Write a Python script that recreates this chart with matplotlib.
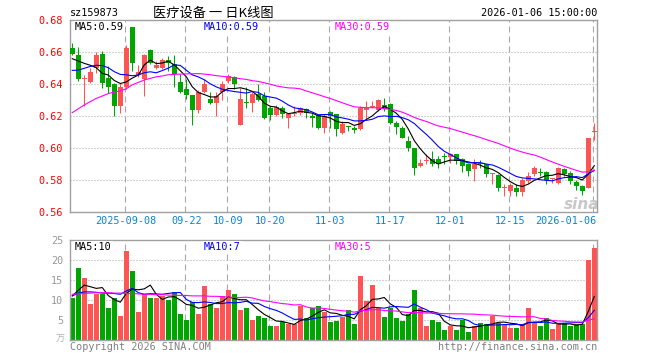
import numpy as np
import matplotlib.pyplot as plt

plt.rcParams['font.family'] = ['DejaVu Sans Mono', 'Noto Sans CJK SC']

# ---- data (one entry per trading day) ----
opens = [0.6627, 0.6581, 0.6431, 0.6415, 0.6502, 0.6585, 0.6435, 0.6398, 0.6263, 0.6383,
         0.6758, 0.6456, 0.6433, 0.6615, 0.6498, 0.6498, 0.6550, 0.6527, 0.6415, 0.6367,
         0.6331, 0.6235, 0.6352, 0.6306, 0.6279, 0.6352, 0.6419, 0.6444, 0.6144, 0.6285,
         0.6283, 0.6340, 0.6325, 0.6252, 0.6206, 0.6248, 0.6185, 0.6210, 0.6221, 0.6242,
         0.6200, 0.6206, 0.6127, 0.6227, 0.6210, 0.6096, 0.6133, 0.6127, 0.6117, 0.6235,
         0.6256, 0.6235, 0.6267, 0.6277, 0.6158, 0.6127, 0.6044, 0.5998, 0.5888, 0.5919,
         0.5929, 0.5929, 0.5944, 0.5944, 0.5960, 0.5929, 0.5898, 0.5867, 0.5902, 0.5898,
         0.5835, 0.5831, 0.5748, 0.5731, 0.5752, 0.5727, 0.5794, 0.5838, 0.5846, 0.5852,
         0.5804, 0.5781, 0.5867, 0.5846, 0.5790, 0.5763, 0.5752, 0.6098]
highs = [0.6658, 0.6631, 0.6456, 0.6502, 0.6600, 0.6606, 0.6513, 0.6404, 0.6404, 0.6644,
         0.6758, 0.6519, 0.6585, 0.6617, 0.6544, 0.6565, 0.6575, 0.6581, 0.6465, 0.6429,
         0.6331, 0.6360, 0.6429, 0.6352, 0.6352, 0.6419, 0.6460, 0.6450, 0.6377, 0.6381,
         0.6352, 0.6398, 0.6352, 0.6263, 0.6269, 0.6263, 0.6220, 0.6263, 0.6256, 0.6252,
         0.6221, 0.6210, 0.6210, 0.6231, 0.6215, 0.6169, 0.6138, 0.6138, 0.6263, 0.6294,
         0.6296, 0.6304, 0.6315, 0.6283, 0.6169, 0.6138, 0.6075, 0.6002, 0.5929, 0.5960,
         0.5981, 0.5950, 0.5971, 0.5971, 0.5965, 0.5940, 0.5902, 0.5929, 0.5923, 0.5902,
         0.5846, 0.5840, 0.5773, 0.5779, 0.5773, 0.5815, 0.5852, 0.5888, 0.5877, 0.5856,
         0.5815, 0.5879, 0.5877, 0.5856, 0.5798, 0.5769, 0.6060, 0.6156]
lows = [0.6581, 0.6419, 0.6262, 0.6408, 0.6470, 0.6377, 0.6346, 0.6200, 0.6221, 0.6367,
        0.6481, 0.6444, 0.6323, 0.6523, 0.6492, 0.6492, 0.6481, 0.6383, 0.6346, 0.6304,
        0.6144, 0.6221, 0.6346, 0.6273, 0.6200, 0.6298, 0.6408, 0.6367, 0.6144, 0.6248,
        0.6227, 0.6294, 0.6179, 0.6173, 0.6200, 0.6190, 0.6127, 0.6200, 0.6206, 0.6190,
        0.6131, 0.6117, 0.6092, 0.6127, 0.6075, 0.6090, 0.6106, 0.6096, 0.6110, 0.6179,
        0.6248, 0.6231, 0.6231, 0.6148, 0.6090, 0.6060, 0.5981, 0.5829, 0.5881, 0.5898,
        0.5888, 0.5877, 0.5898, 0.5908, 0.5898, 0.5852, 0.5825, 0.5794, 0.5877, 0.5819,
        0.5775, 0.5731, 0.5702, 0.5702, 0.5702, 0.5702, 0.5783, 0.5825, 0.5825, 0.5773,
        0.5781, 0.5775, 0.5825, 0.5773, 0.5740, 0.5708, 0.5748, 0.6048]
closes = [0.6585, 0.6433, 0.6435, 0.6477, 0.6579, 0.6408, 0.6383, 0.6263, 0.6383, 0.6627,
          0.6529, 0.6477, 0.6581, 0.6533, 0.6517, 0.6548, 0.6533, 0.6465, 0.6352, 0.6329,
          0.6235, 0.6352, 0.6402, 0.6279, 0.6325, 0.6402, 0.6450, 0.6402, 0.6304, 0.6279,
          0.6335, 0.6298, 0.6185, 0.6206, 0.6256, 0.6215, 0.6210, 0.6220, 0.6248, 0.6221,
          0.6190, 0.6127, 0.6200, 0.6200, 0.6117, 0.6148, 0.6131, 0.6110, 0.6252, 0.6252,
          0.6258, 0.6298, 0.6242, 0.6158, 0.6131, 0.6065, 0.5998, 0.5877, 0.5904, 0.5923,
          0.5898, 0.5898, 0.5942, 0.5960, 0.5919, 0.5888, 0.5856, 0.5902, 0.5898, 0.5835,
          0.5842, 0.5752, 0.5754, 0.5767, 0.5727, 0.5798, 0.5825, 0.5873, 0.5844, 0.5798,
          0.5808, 0.5875, 0.5835, 0.5794, 0.5763, 0.5731, 0.6060, 0.6102]
# volume, 万手
volume = [10.5, 17.8, 15.3, 9.0, 11.3, 11.5, 7.8, 10.3, 5.8, 22.1,
          17.1, 6.8, 11.5, 10.5, 10.5, 10.8, 9.8, 12.0, 6.3, 5.0,
          9.5, 6.3, 13.3, 9.0, 7.8, 10.8, 12.3, 11.3, 7.5, 7.8,
          4.8, 5.8, 5.5, 3.5, 3.5, 4.3, 3.8, 3.8, 8.3, 5.3,
          8.0, 8.5, 7.0, 4.5, 4.6, 5.6, 7.3, 3.8, 15.9, 9.6,
          13.6, 7.8, 5.6, 7.9, 5.3, 4.6, 6.3, 12.3, 7.8, 3.5,
          4.9, 4.3, 2.3, 3.3, 2.3, 4.8, 2.0, 3.3, 4.2, 3.9,
          5.9, 4.2, 3.6, 2.8, 3.0, 3.8, 7.8, 4.1, 3.3, 5.5,
          2.6, 3.8, 4.1, 3.5, 3.8, 3.9, 19.8, 22.8]

# moving-average values before the window has enough history
ma5_head = [0.6558, 0.6544, 0.6529, 0.6517]
ma10_head = [0.6485, 0.6487, 0.6498, 0.6510, 0.6517, 0.6515, 0.6502, 0.6477, 0.6460]
ma30_head = [0.6221, 0.6245, 0.6269, 0.6290, 0.6310, 0.6325, 0.6340, 0.6350, 0.6357, 0.6370,
             0.6395, 0.6410, 0.6425, 0.6435, 0.6445, 0.6450, 0.6458, 0.6460, 0.6462, 0.6463,
             0.6464, 0.6465, 0.6462, 0.6458, 0.6452, 0.6448, 0.6444, 0.6440, 0.6433]
vma5_head = [10.9, 12.3, 13.6, 13.2]
vma10_head = [10.9, 11.6, 11.9, 11.9, 11.8, 11.6, 11.6, 11.5, 11.3]
vma30_head = [11.3, 11.4, 11.5, 11.6, 11.7, 11.7, 11.7, 11.6, 11.6, 11.5,
              11.5, 11.4, 11.3, 11.3, 11.2, 11.2, 11.1, 11.1, 11.0, 11.0,
              10.9, 10.9, 10.9, 10.8, 10.8, 10.7, 10.6, 10.5, 10.5]

date_idx = [9, 19, 26, 33, 43, 53, 63, 73, 87]
date_labels = ['2025-09-08', '09-22', '10-09', '10-20', '11-03', '11-17', '12-01', '12-15', '2026-01-06']
price_ticks = [0.56, 0.58, 0.60, 0.62, 0.64, 0.66, 0.68]
vol_ticks = [5, 10, 15, 20, 25]


def moving_avg(values, n, head):
    values = np.asarray(values, dtype=float)
    out = np.empty(len(values))
    out[:n - 1] = head
    for i in range(n - 1, len(values)):
        out[i] = values[i - n + 1:i + 1].mean()
    return out


W, H = 660, 360
RED = '#ff5454'
GREEN = '#00a600'
GRID = '#a8a8a8'
FRAME = '#a0a0a0'


def fx(x):
    return x / W


def fy(y):
    return 1 - y / H


o = np.array(opens)
c = np.array(closes)
n = len(c)
xs = np.arange(n)
up = c >= o
colors = [RED if u else GREEN for u in up]

fig = plt.figure(figsize=(6.6, 3.6), dpi=100)
ax = fig.add_axes([fx(70), fy(212), fx(527), 192 / H])
axv = fig.add_axes([fx(70), fy(339.5), fx(527), 100 / H])

xlim = (-0.38, 87.45)
step = 527 / (xlim[1] - xlim[0])


def px_of(i):
    return 70 + (i - xlim[0]) * step


for a in (ax, axv):
    a.set_xlim(*xlim)
    for s in a.spines.values():
        s.set_color(FRAME)
        s.set_linewidth(1.0)
    a.tick_params(length=0)
    a.set_xticks([])
    for d in date_idx:
        a.axvline(d - 0.28, color=GRID, lw=0.8, dashes=(5.4, 3.6), zorder=0)

# ---- price panel ----
ax.set_ylim(0.56, 0.68)
ax.set_yticks(price_ticks)
ax.set_yticklabels(['%.2f' % t for t in price_ticks], color='#ff0000', fontsize=7.3)
ax.tick_params(axis='y', pad=5)
for t in price_ticks[1:-1]:
    ax.axhline(t, color=GRID, lw=0.8, dashes=(0.9, 1.8), zorder=0)

ax.vlines(xs, lows, highs, colors=colors, lw=0.75, zorder=2)
body = np.maximum(np.abs(c - o), 0.0006)
ax.bar(xs, body, bottom=np.minimum(o, c), width=0.78, color=colors, lw=0, zorder=3)

ax.plot(xs, moving_avg(c, 5, ma5_head), color='black', lw=0.8, zorder=4)
ax.plot(xs, moving_avg(c, 10, ma10_head), color='#0000ff', lw=0.8, zorder=4)
ax.plot(xs, moving_avg(c, 30, ma30_head), color='#ff00ff', lw=0.8, zorder=4)

ax.text(xlim[1] - 2.5, 0.5645, 'sina', color='#c8c8c8', fontsize=11, style='italic',
        weight='bold', family='DejaVu Sans', ha='center', va='center', zorder=1)

for i, lab in zip(date_idx, date_labels):
    xp = px_of(i)
    ha = 'center'
    if lab == date_labels[-1]:
        xp, ha = 596, 'right'
    fig.text(fx(xp), fy(221), lab, color='#0a84d0', fontsize=7.3, ha=ha, va='center')

# ---- volume panel ----
axv.set_ylim(0, 25)
axv.set_yticks(vol_ticks)
axv.set_yticklabels([str(t) for t in vol_ticks], color='#999999', fontsize=7.3)
axv.tick_params(axis='y', pad=5)
for t in vol_ticks[:-1]:
    axv.axhline(t, color=GRID, lw=0.8, dashes=(0.9, 1.8), zorder=0)
axv.bar(xs, volume, width=0.78, color=colors, lw=0, zorder=2)
axv.plot(xs, moving_avg(volume, 5, vma5_head), color='black', lw=0.8, zorder=4)
axv.plot(xs, moving_avg(volume, 10, vma10_head), color='#0000ff', lw=0.8, zorder=4)
axv.plot(xs, moving_avg(volume, 30, vma30_head), color='#ff00ff', lw=0.8, zorder=4)

# ---- texts ----
box = dict(facecolor='white', edgecolor='none', pad=0.6)
fig.text(fx(70), fy(13), 'sz159873', fontsize=7.3, va='center', color='black')
fig.text(fx(213), fy(13), '医疗设备 一 日K线图', fontsize=9.5, ha='center', va='center',
         family=['Noto Sans CJK SC', 'DejaVu Sans Mono'])
fig.text(fx(597), fy(13), '2026-01-06 15:00:00', fontsize=7.3, ha='right', va='center')

ma_close = [moving_avg(c, k, h)[-1] for k, h in ((5, ma5_head), (10, ma10_head), (30, ma30_head))]
ma_vol = [moving_avg(volume, k, h)[-1] for k, h in ((5, vma5_head), (10, vma10_head), (30, vma30_head))]
for k, (lab, col, xp) in enumerate([('MA5', 'black', 75), ('MA10', '#0000ff', 204),
                                    ('MA30', '#ff00ff', 335)]):
    fig.text(fx(xp), fy(27), '%s:%.2f' % (lab, ma_close[k]), color=col, fontsize=7.3,
             va='center', bbox=box, zorder=10)
    fig.text(fx(xp), fy(247), '%s:%d' % (lab, int(ma_vol[k])), color=col, fontsize=7.3,
             va='center', bbox=box, zorder=10)

fig.text(fx(65), fy(339), '万', color='#b0b0b0', fontsize=6.5, ha='right', va='center',
         family=['Noto Sans CJK SC'])
fig.text(fx(70), fy(347), 'Copyright 2026 SINA.COM', color='#808080', fontsize=7.3, va='center')
fig.text(fx(597), fy(347), 'http://finance.sina.com.cn', color='#808080', fontsize=7.3,
         ha='right', va='center')

fig.savefig('out.png', dpi=100)
